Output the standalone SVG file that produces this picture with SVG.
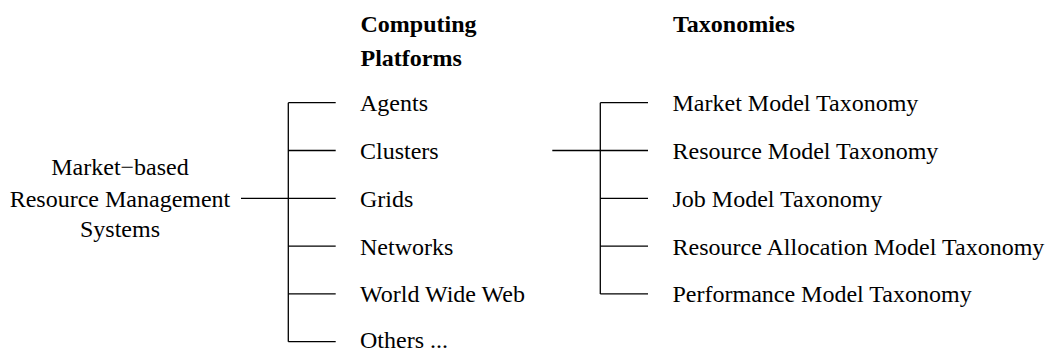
<svg xmlns="http://www.w3.org/2000/svg" width="1048" height="352" viewBox="0 0 1048 352">
<style>
text{font-family:"Liberation Serif","Times New Roman",serif;font-size:24px;fill:#000}
.h{font-weight:bold}
.c{text-anchor:middle}
line{stroke:#000;stroke-width:1.3;fill:none}
</style>
<rect width="1048" height="352" fill="#fff"/>
<g id="connectors">
<line x1="241" y1="198.3" x2="288.3" y2="198.3"/>
<line x1="288.3" y1="102.7" x2="288.3" y2="341.7"/>
<line x1="288.3" y1="102.7" x2="335.7" y2="102.7"/>
<line x1="288.3" y1="150.5" x2="335.7" y2="150.5"/>
<line x1="288.3" y1="198.3" x2="335.7" y2="198.3"/>
<line x1="288.3" y1="246.1" x2="335.7" y2="246.1"/>
<line x1="288.3" y1="293.9" x2="335.7" y2="293.9"/>
<line x1="288.3" y1="341.7" x2="335.7" y2="341.7"/>
<line x1="552.3" y1="150.5" x2="600.3" y2="150.5"/>
<line x1="600.3" y1="102.7" x2="600.3" y2="293.9"/>
<line x1="600.3" y1="102.7" x2="648" y2="102.7"/>
<line x1="600.3" y1="150.5" x2="648" y2="150.5"/>
<line x1="600.3" y1="198.3" x2="648" y2="198.3"/>
<line x1="600.3" y1="246.1" x2="648" y2="246.1"/>
<line x1="600.3" y1="293.9" x2="648" y2="293.9"/>
</g>
<g id="root"><text class="c" x="120" y="175">Market−based</text><text class="c" x="120" y="206.5">Resource Management</text><text class="c" x="120" y="237">Systems</text></g>
<g id="header-platforms"><text class="h" x="360.5" y="31.5">Computing</text><text class="h" x="360.5" y="65.5">Platforms</text></g>
<g id="header-taxonomies"><text class="h" x="673" y="31.5">Taxonomies</text></g>
<g id="agents"><text x="360" y="111.2">Agents</text></g>
<g id="clusters"><text x="360" y="159">Clusters</text></g>
<g id="grids"><text x="360" y="206.8">Grids</text></g>
<g id="networks"><text x="360" y="254.6">Networks</text></g>
<g id="www"><text x="360" y="302.4">World Wide Web</text></g>
<g id="others"><text x="360" y="348">Others ...</text></g>
<g id="market-model"><text x="672.5" y="111.2">Market Model Taxonomy</text></g>
<g id="resource-model"><text x="672.5" y="159">Resource Model Taxonomy</text></g>
<g id="job-model"><text x="672.5" y="206.8">Job Model Taxonomy</text></g>
<g id="resource-allocation-model"><text x="672.5" y="254.6">Resource Allocation Model Taxonomy</text></g>
<g id="performance-model"><text x="672.5" y="302.4">Performance Model Taxonomy</text></g>
</svg>
